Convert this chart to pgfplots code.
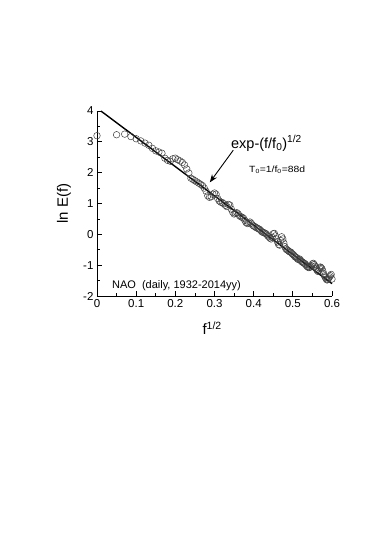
\documentclass[border=0pt]{standalone}
\usepackage{fontspec}
\setmainfont{Liberation Sans}
\usepackage{pgfplots}
\pgfplotsset{compat=1.18}
\usetikzlibrary{arrows.meta}

\begin{document}
\begin{tikzpicture}
\begin{axis}[
  scale only axis,
  width=235pt, height=185pt,
  xmin=0, xmax=0.6, ymin=-2, ymax=4,
  axis lines*=left,
  axis line style={-, line width=0.8pt},
  tick align=inside,
  major tick length=5pt, minor tick length=3pt,
  every tick/.style={black, line width=0.8pt},
  xtick={0,0.1,0.2,0.3,0.4,0.5,0.6},
  ytick={-2,-1,0,1,2,3,4},
  minor tick num=1,
  /pgf/number format/assume math mode=true,
  xticklabel style={font=\fontsize{11.5}{13}\selectfont, /pgf/number format/fixed},
  yticklabel style={font=\fontsize{11.5}{13}\selectfont},
  xlabel={f\textsuperscript{1/2}},
  ylabel={ln E(f)},
  xlabel style={font=\fontsize{15}{17}\selectfont, at={(axis description cs:0.49,-0.175)}, anchor=center},
  ylabel style={font=\fontsize{15}{17}\selectfont, at={(axis description cs:-0.14,0.5)}, anchor=center},
  clip=false,
]
% NAO spectrum
\addplot[only marks, mark=o, mark size=3.3pt,
  mark options={draw=black!75, fill=white, line width=0.5pt}] coordinates {
(0.0000, 3.20) (0.0500, 3.23) (0.0707, 3.25) (0.0866, 3.17) (0.1000, 3.10)
(0.1118, 3.03) (0.1225, 2.96) (0.1323, 2.89) (0.1414, 2.79) (0.1500, 2.71)
(0.1581, 2.67) (0.1658, 2.63) (0.1732, 2.47) (0.1803, 2.40) (0.1871, 2.37)
(0.1936, 2.45) (0.2000, 2.47) (0.2062, 2.42) (0.2121, 2.38) (0.2179, 2.33)
(0.2236, 2.25) (0.2291, 2.12) (0.2345, 1.99) (0.2398, 1.82) (0.2449, 1.78)
(0.2500, 1.74) (0.2550, 1.70) (0.2598, 1.66) (0.2646, 1.62) (0.2693, 1.58)
(0.2739, 1.50) (0.2784, 1.40) (0.2828, 1.25) (0.2872, 1.20) (0.2915, 1.22)
(0.2958, 1.30) (0.3000, 1.34) (0.3041, 1.30) (0.3082, 1.16) (0.3122, 1.08)
(0.3162, 1.04) (0.3202, 1.03) (0.3240, 0.99) (0.3279, 0.94) (0.3317, 0.90)
(0.3354, 0.97) (0.3391, 0.95) (0.3428, 0.82) (0.3464, 0.72) (0.3500, 0.66)
(0.3536, 0.68) (0.3571, 0.70) (0.3606, 0.66) (0.3640, 0.60) (0.3674, 0.57)
(0.3708, 0.55) (0.3742, 0.52) (0.3775, 0.45) (0.3808, 0.38) (0.3841, 0.35)
(0.3873, 0.37) (0.3905, 0.40) (0.3937, 0.36) (0.3969, 0.30) (0.4000, 0.27)
(0.4031, 0.25) (0.4062, 0.22) (0.4093, 0.20) (0.4123, 0.18) (0.4153, 0.16)
(0.4183, 0.12) (0.4213, 0.08) (0.4243, 0.06) (0.4272, 0.05) (0.4301, 0.03)
(0.4330, 0.00) (0.4359, -0.05) (0.4387, -0.08) (0.4416, -0.12) (0.4444, -0.15)
(0.4472, -0.10) (0.4500, 0.02) (0.4528, 0.03) (0.4555, -0.05) (0.4583, -0.15)
(0.4610, -0.25) (0.4637, -0.33) (0.4664, -0.35) (0.4690, -0.20) (0.4717, -0.08)
(0.4743, -0.15) (0.4770, -0.28) (0.4796, -0.40) (0.4822, -0.47) (0.4848, -0.50)
(0.4873, -0.52) (0.4899, -0.55) (0.4924, -0.57) (0.4950, -0.58) (0.4975, -0.62)
(0.5000, -0.65) (0.5025, -0.68) (0.5050, -0.72) (0.5074, -0.74) (0.5099, -0.76)
(0.5123, -0.80) (0.5148, -0.82) (0.5172, -0.80) (0.5196, -0.84) (0.5220, -0.88)
(0.5244, -0.90) (0.5268, -0.92) (0.5292, -0.94) (0.5315, -0.96) (0.5339, -1.00)
(0.5362, -1.04) (0.5385, -1.06) (0.5408, -1.08) (0.5431, -1.07) (0.5454, -1.05)
(0.5477, -1.02) (0.5500, -0.96) (0.5523, -0.94) (0.5545, -0.98) (0.5568, -1.03)
(0.5590, -1.10) (0.5612, -1.15) (0.5635, -1.20) (0.5657, -1.18) (0.5679, -1.10)
(0.5701, -1.06) (0.5723, -1.08) (0.5745, -1.12) (0.5766, -1.20) (0.5788, -1.28)
(0.5809, -1.35) (0.5831, -1.40) (0.5852, -1.45) (0.5874, -1.48) (0.5895, -1.46)
(0.5916, -1.42) (0.5937, -1.38) (0.5958, -1.34) (0.5979, -1.30) (0.6000, -1.45)
};
% fit exp-(f/f0)^{1/2}
\addplot[black, line width=1.4pt] coordinates {(0.01, 4.0) (0.60, -1.60)};

\draw[-{Stealth[length=8pt,width=6pt]}, line width=0.9pt]
  (axis cs:0.348,2.73) -- (axis cs:0.288,1.685);
\node[anchor=base west, inner sep=0pt, font=\fontsize{14.5}{16}\selectfont]
  at (axis cs:0.342,2.80) {exp-(f/f\textsubscript{0})\textsuperscript{1/2}};
\node[anchor=base west, inner sep=0pt, xscale=1.15, font=\fontsize{9}{11}\selectfont]
  at (axis cs:0.388,2.00) {T\textsubscript{0}=1/f\textsubscript{0}=88d};
\node[anchor=base west, inner sep=0pt, font=\fontsize{11}{13}\selectfont]
  at (axis cs:0.038,-1.75) {NAO~~(daily, 1932-2014yy)};
\coordinate (O) at (rel axis cs:0,0);
\end{axis}
\path (O) ++(-97pt,-240pt) rectangle ++(374pt,536pt);
\end{tikzpicture}
\end{document}
